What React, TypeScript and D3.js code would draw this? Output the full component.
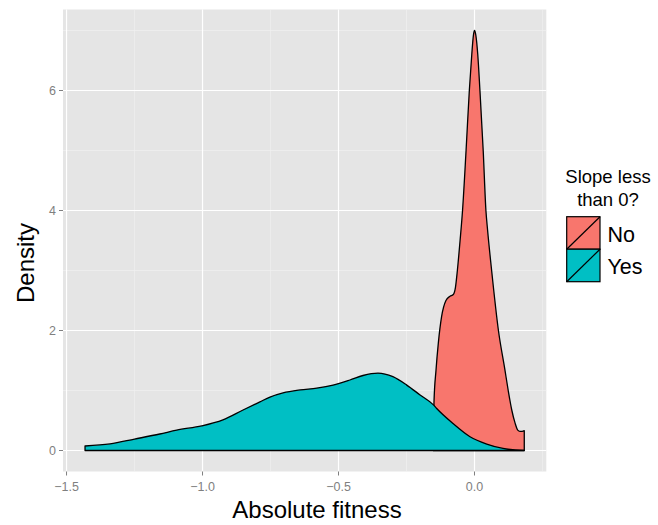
import React from "react";
import * as d3 from "d3";

// Density curve for "No" (slope not less than 0)
const noX = [-0.152, -0.149, -0.1415, -0.133, -0.121, -0.105, -0.09, -0.078, -0.07, -0.063, -0.053, -0.044, -0.031, -0.019, -0.01, -0.004, 0.0, 0.005, 0.012, 0.02, 0.032, 0.042, 0.048, 0.063, 0.088, 0.112, 0.124, 0.137, 0.149, 0.159, 0.167, 0.175, 0.183];
const noY = [0.0, 0.8, 1.34, 1.79, 2.23, 2.5, 2.57, 2.6, 2.72, 3.0, 3.5, 4.0, 5.0, 6.0, 6.6, 6.92, 7.0, 6.92, 6.6, 6.0, 5.0, 4.0, 3.68, 3.0, 2.0, 1.34, 1.0, 0.675, 0.46, 0.34, 0.32, 0.32, 0.33];

// Density curve for "Yes" (slope less than 0)
const yesX = [-1.432, -1.34, -1.25, -1.157, -1.095, -1.003, -0.925, -0.851, -0.789, -0.752, -0.704, -0.641, -0.58, -0.52, -0.458, -0.41, -0.355, -0.3, -0.249, -0.2, -0.151, -0.139, -0.079, -0.0165, 0.045, 0.105, 0.183];
const yesY = [0.075, 0.11, 0.19, 0.275, 0.34, 0.41, 0.51, 0.675, 0.81, 0.89, 0.96, 1.01, 1.04, 1.09, 1.175, 1.25, 1.29, 1.23, 1.09, 0.925, 0.76, 0.7, 0.45, 0.23, 0.108, 0.035, 0.003];

const xTicks = [-1.5, -1.0, -0.5, 0.0];
const xTickLabels = ["\u22121.5", "\u22121.0", "\u22120.5", "0.0"];
const xMinor = [-1.25, -0.75, -0.25, 0.25];
const yTicks = [0, 2, 4, 6];
const yMinor = [1, 3, 5, 7];

const groups = ["No", "Yes"];
const colors = ["#F8766D", "#00BFC4"];

const FONT = "'Liberation Sans', Arial, Helvetica, sans-serif";

export default function App() {
  const left = 63, right = 546.3, top = 9.5, bottom = 471.5;
  const x = d3.scaleLinear().domain([-1.513, 0.264]).range([left, right]);
  const y = d3.scaleLinear().domain([-0.35, 7.35]).range([bottom, top]);

  const area = d3
    .area<[number, number]>()
    .x((d) => x(d[0]))
    .y0(() => y(0))
    .y1((d) => y(d[1]))
    .curve(d3.curveMonotoneX);

  const noData: [number, number][] = noX.map((v, i) => [v, noY[i]]);
  const yesData: [number, number][] = yesX.map((v, i) => [v, yesY[i]]);
  const series = [noData, yesData];

  return (
    <svg width={658} height={525} style={{ position: "absolute", left: 0, top: 0 }} fontFamily={FONT}>
      <rect x={0} y={0} width={658} height={525} fill="#ffffff" />
      <rect x={left} y={top} width={right - left} height={bottom - top} fill="#E5E5E5" />
      {xMinor.map((t) => (
        <line key={"xm" + t} x1={x(t)} x2={x(t)} y1={top} y2={bottom} stroke="#F2F2F2" strokeWidth={0.6} />
      ))}
      {yMinor.map((t) => (
        <line key={"ym" + t} x1={left} x2={right} y1={y(t)} y2={y(t)} stroke="#F2F2F2" strokeWidth={0.6} />
      ))}
      {xTicks.map((t) => (
        <line key={"xg" + t} x1={x(t)} x2={x(t)} y1={top} y2={bottom} stroke="#ffffff" strokeWidth={1.2} />
      ))}
      {yTicks.map((t) => (
        <line key={"yg" + t} x1={left} x2={right} y1={y(t)} y2={y(t)} stroke="#ffffff" strokeWidth={1.2} />
      ))}
      {series.map((s, i) => (
        <path key={groups[i]} d={area(s) || ""} fill={colors[i]} stroke="#000000" strokeWidth={1.3} strokeLinejoin="round" />
      ))}
      {/* x axis */}
      {xTicks.map((t, i) => (
        <g key={"xt" + t}>
          <line x1={x(t)} x2={x(t)} y1={bottom} y2={bottom + 4} stroke="#7F7F7F" strokeWidth={1} />
          <text x={x(t)} y={491} textAnchor="middle" fontSize={12.5} fill="#7F7F7F">
            {xTickLabels[i]}
          </text>
        </g>
      ))}
      {/* y axis */}
      {yTicks.map((t) => (
        <g key={"yt" + t}>
          <line x1={left - 4} x2={left} y1={y(t)} y2={y(t)} stroke="#7F7F7F" strokeWidth={1} />
          <text x={left - 7} y={y(t) + 4.3} textAnchor="end" fontSize={12.5} fill="#7F7F7F">
            {t}
          </text>
        </g>
      ))}
      <text x={317} y={517.5} textAnchor="middle" fontSize={24} fill="#000000">
        Absolute fitness
      </text>
      <text transform="translate(33.5,263) rotate(-90)" textAnchor="middle" fontSize={24} fill="#000000">
        Density
      </text>
      {/* legend */}
      <text x={608} y={183.3} textAnchor="middle" fontSize={18.5} fill="#000000">
        Slope less
      </text>
      <text x={608} y={206} textAnchor="middle" fontSize={18.5} fill="#000000">
        than 0?
      </text>
      {groups.map((g, i) => {
        const ky = 216.7 + i * 32.5;
        return (
          <g key={"lg" + g}>
            <rect x={566.7} y={ky} width={33.3} height={32.5} fill={colors[i]} stroke="#000000" strokeWidth={1.2} />
            <line x1={566.7} y1={ky + 32.5} x2={600} y2={ky} stroke="#000000" strokeWidth={1.2} />
            <text x={607.5} y={ky + 25} fontSize={21.5} fill="#000000">
              {g}
            </text>
          </g>
        );
      })}
    </svg>
  );
}
